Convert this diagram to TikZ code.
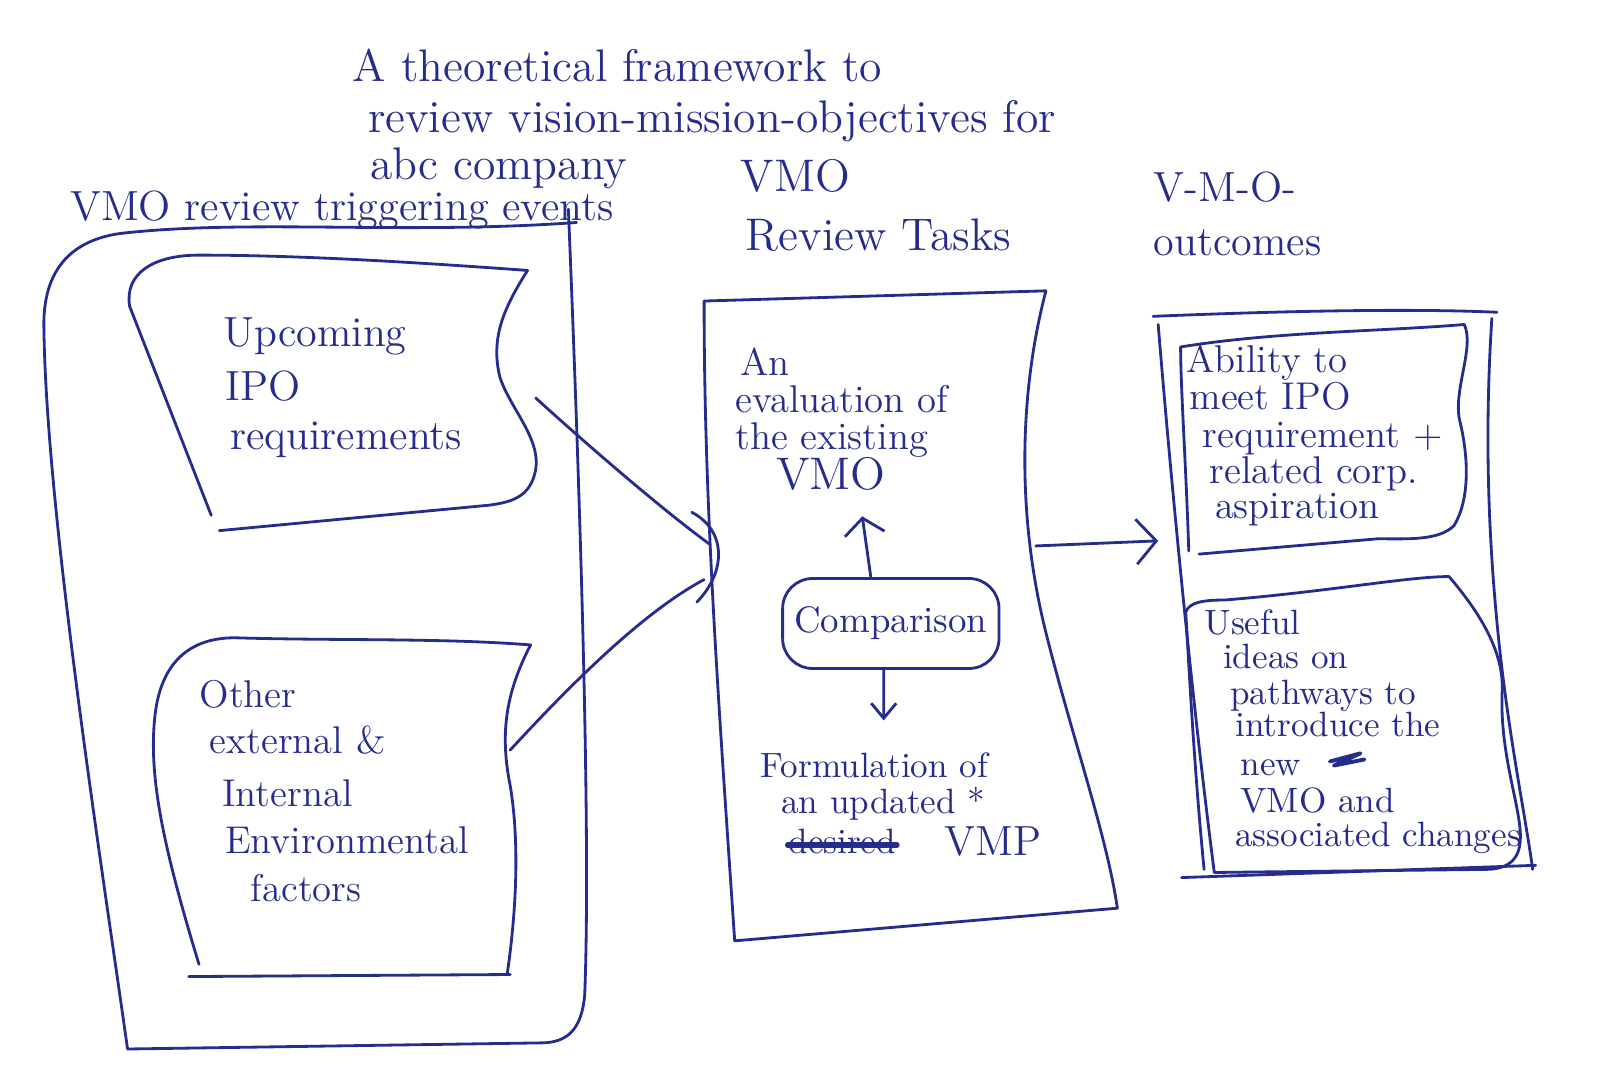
\documentclass[tikz,border=0pt]{standalone}
\usepackage{fontspec}
\usetikzlibrary{arrows.meta}
\definecolor{pen}{RGB}{38,44,140}
\tikzset{
  ink/.style={draw=pen, line width=0.8pt, line join=round, line cap=round},
  hand/.style={text=pen, inner sep=0pt, anchor=base west},
  fA/.style={font=\fontsize{13}{15}\selectfont},
  fU/.style={font=\fontsize{12}{14}\selectfont},
  fB/.style={font=\fontsize{12}{14}\selectfont},
  fO/.style={font=\fontsize{11}{13}\selectfont},
  fC/.style={font=\fontsize{13}{15}\selectfont},
  fD/.style={font=\fontsize{11}{13}\selectfont},
  fF/.style={font=\fontsize{10}{12}\selectfont},
  fE/.style={font=\fontsize{10}{12}\selectfont},
  barb/.style={-{Straight Barb[length=2mm,width=4.5mm]}},
  cmpbox/.style={ink, rounded corners=3mm, minimum width=2.09cm, minimum height=0.9cm, text=pen, font=\fontsize{10.5}{12}\selectfont}
}
\begin{document}
\begin{tikzpicture}[x=0.010204cm, y=-0.010204cm]
\useasboundingbox (0,0) rectangle (1568,1069);

% ---------- title ----------
\node[hand,fA] (t1) at (345,80) {A theoretical framework to};
\node[hand,fA] (t2) at (360,130) {review vision-mission-objectives for};
\node[hand,fA] (t3) at (362,176) {abc company};

% ---------- column headers ----------
\node[hand,fB] (h1) at (68,216) {VMO review triggering events};
\node[hand,fC] (h2a) at (725,188) {VMO};
\node[hand,fC] (h2b) at (730,245) {Review Tasks};
\node[hand,fB] (h3a) at (1130,197) {V-M-O-};
\node[hand,fB] (h3b) at (1130,250) {outcomes};

% ---------- left outer box ----------
\draw[ink] (557,205) .. controls (565,400) and (580,800) .. (573,975)
  .. controls (570,1010) and (555,1022) .. (530,1022) -- (125,1028)
  .. controls (100,850) and (45,500) .. (43,320)
  .. controls (42,255) and (80,232) .. (125,228)
  .. controls (250,215) and (400,230) .. (565,218);

% box 1
\draw[ink] (207,505) -- (127,300) .. controls (122,268) and (150,250) .. (195,250)
  .. controls (300,250) and (420,258) .. (517,265)
  .. controls (495,300) and (480,330) .. (490,370)
  .. controls (500,400) and (530,430) .. (525,460)
  .. controls (520,488) and (500,492) .. (480,495) -- (215,520);
\node[hand,fU] (u1) at (218,340) {Upcoming};
\node[hand,fU] (u2) at (220,392) {IPO};
\node[hand,fU] (u3) at (225,440) {requirements};

% box 2
\draw[ink] (195,945) .. controls (160,830) and (145,760) .. (152,700)
  .. controls (158,650) and (185,625) .. (230,625)
  .. controls (330,628) and (430,625) .. (520,632)
  .. controls (495,680) and (490,720) .. (500,770)
  .. controls (510,830) and (505,900) .. (497,955);
\draw[ink] (185,957) -- (500,955);
\node[hand,fO] (o1) at (195,693) {Other};
\node[hand,fO] (o2) at (205,738) {external \&};
\node[hand,fO] (o3) at (217,790) {Internal};
\node[hand,fO] (o4) at (220,836) {Environmental};
\node[hand,fO] (o5) at (245,883) {factors};

% ---------- middle box ----------
\draw[ink] (690,295) -- (1025,285)
  .. controls (1000,380) and (995,500) .. (1025,620)
  .. controls (1050,720) and (1085,820) .. (1095,890) -- (720,922)
  .. controls (705,700) and (690,500) .. cycle;
\node[hand,fD] (e1) at (725,368) {An};
\node[hand,fD] (e2) at (720,404) {evaluation of};
\node[hand,fD] (e3) at (720,440) {the existing};
\node[hand,fC] (e4) at (760,480) {VMO};
\node[cmpbox] (cmp) at (873,611) {Comparison};
\coordinate (evalpt) at (845,506);
\coordinate (formpt) at (866,706);
\draw[ink,-{Straight Barb[length=1.6mm,width=4mm]}] ([xshift=-0.2cm]cmp.north) -- (evalpt);
\draw[ink,-{Straight Barb[length=1.5mm,width=2.5mm]}] ([xshift=-0.07cm]cmp.south) -- (formpt);
\node[hand,fF] (f1) at (745,762) {Formulation of};
\node[hand,fF] (f2) at (765,797) {an updated *};
\node[hand,fF] (f3) at (772,836) {desired};
\draw[ink,line width=1.6pt] ([yshift=2.3pt]f3.base west) -- ([yshift=2.3pt]f3.base east);
\node[hand,fB] (f4) at (925,838) {VMP};

% ---------- right box ----------
\draw[ink] (1130,310) .. controls (1250,305) and (1380,302) .. (1467,306);
\draw[ink] (1135,318) .. controls (1150,500) and (1170,700) .. (1190,855);
\draw[ink] (1462,312) .. controls (1455,420) and (1458,520) .. (1468,620)
  .. controls (1478,720) and (1495,800) .. (1502,852);
\draw[ink] (1158,860) -- (1505,848);

% inner A
\draw[ink] (1165,540) .. controls (1162,450) and (1157,380) .. (1157,340)
  .. controls (1250,325) and (1350,325) .. (1435,318)
  .. controls (1445,340) and (1425,380) .. (1430,410)
  .. controls (1440,450) and (1440,490) .. (1425,515)
  .. controls (1410,530) and (1380,528) .. (1350,528) -- (1175,543);
\node[hand,fD] (a1) at (1162,365) {Ability to};
\node[hand,fD] (a2) at (1165,401) {meet IPO};
\node[hand,fD] (a3) at (1178,439) {requirement +};
\node[hand,fD] (a4) at (1185,474) {related corp.};
\node[hand,fD] (a5) at (1190,508) {aspiration};

% inner B
\draw[ink] (1180,852) .. controls (1170,750) and (1165,650) .. (1162,600)
  .. controls (1165,590) and (1180,588) .. (1200,588)
  .. controls (1300,580) and (1380,565) .. (1420,565)
  .. controls (1450,600) and (1475,640) .. (1472,680)
  .. controls (1470,740) and (1490,790) .. (1490,820)
  .. controls (1490,845) and (1475,852) .. (1455,852) -- (1190,855);
\node[hand,fE] (b1) at (1180,622) {Useful};
\node[hand,fE] (b2) at (1198,655) {ideas on};
\node[hand,fE] (b3) at (1205,690) {pathways to};
\node[hand,fE] (b4) at (1210,722) {introduce the};
\node[hand,fE] (b5) at (1215,760) {new};
\draw[ink,line width=1.1pt] ([xshift=8pt,yshift=4pt]b5.base east) -- ++(30,-8) -- ++(-26,12) -- ++(30,-6);
\node[hand,fE] (b6) at (1215,796) {VMO and};
\node[hand,fE] (b7) at (1210,830) {associated changes};

% ---------- connectors ----------
\coordinate (j1) at (525,390);
\coordinate (j2) at (500,735);
\coordinate (m1) at (695,533);
\coordinate (m2) at (690,568);
\draw[ink] (j1) .. controls (580,440) and (650,500) .. (m1);
\draw[ink] (j2) .. controls (560,670) and (630,600) .. (m2);
\draw[ink] (678,502) .. controls (712,520) and (712,560) .. (683,590);

\coordinate (midout) at (1015,535);
\coordinate (rightin) at (1135,530);
\draw[ink,barb] (midout) -- (rightin);
\end{tikzpicture}
\end{document}
